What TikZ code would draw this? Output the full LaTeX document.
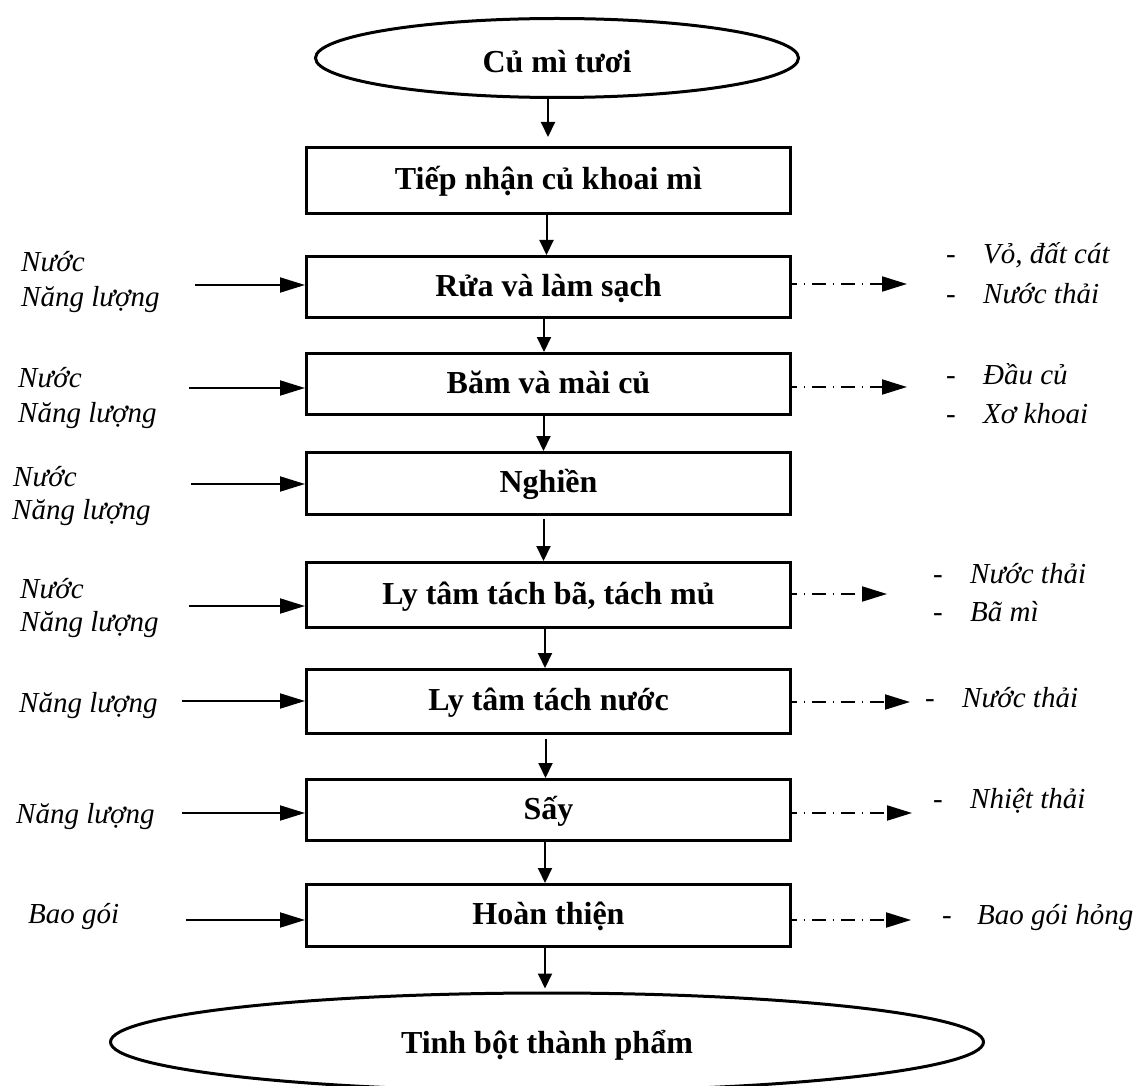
\documentclass[tikz,border=0pt]{standalone}
\usepackage{fontspec}
\setmainfont{Liberation Serif}
\usetikzlibrary{arrows.meta,shapes.geometric}
\begin{document}
\begin{tikzpicture}[x=1pt,y=-1pt,
  stepbox/.style={draw, line width=3pt, minimum width=484pt, inner sep=0pt,
    font=\fontsize{32}{38}\selectfont\bfseries, text height=24pt, text depth=6pt},
  endcap/.style={draw, ellipse, line width=3pt, inner sep=0pt,
    font=\fontsize{32}{38}\selectfont\bfseries},
  flow/.style={line width=2pt, -{Triangle[length=15pt,width=14pt]}},
  feed/.style={line width=2pt, -{Triangle[length=25pt,width=15pt]}},
  waste/.style={line width=2pt, dash pattern=on 14pt off 6.5pt on 1.5pt off 7pt,
    dash phase=9pt, -{Triangle[length=25pt,width=15pt]}},
  lab/.style={anchor=base west, inner sep=0pt, font=\fontsize{29}{34}\selectfont\itshape},
  outlab/.style={anchor=base west, inner sep=0pt, font=\fontsize{29}{34}\selectfont},
]
\clip (0,0) rectangle (1133,1086);

% start and end of the process
\node[endcap, minimum width=483pt, minimum height=79pt, text height=30pt, text depth=0pt]
  (e1) at (557,58) {Củ mì tươi};
\node[endcap, minimum width=873pt, minimum height=98pt, text height=28pt, text depth=6pt]
  (e2) at (547,1042) {Tinh bột thành phẩm};

% process steps
\node[stepbox, minimum height=66pt] (b1) at (548.5,180.5) {Tiếp nhận củ khoai mì};
\node[stepbox, minimum height=61pt] (b2) at (548.5,287) {Rửa và làm sạch};
\node[stepbox, minimum height=61pt] (b3) at (548.5,384) {Băm và mài củ};
\node[stepbox, minimum height=62pt] (b4) at (548.5,483.5) {Nghiền};
\node[stepbox, minimum height=65pt] (b5) at (548.5,595) {Ly tâm tách bã, tách mủ};
\node[stepbox, minimum height=64pt] (b6) at (548.5,701.5) {Ly tâm tách nước};
\node[stepbox, minimum height=61pt] (b7) at (548.5,810) {Sấy};
\node[stepbox, minimum height=62pt] (b8) at (548.5,915.5) {Hoàn thiện};

% main flow
\draw[flow] ([xshift=-9pt]e1.south) -- ([xshift=-0.5pt,yshift=9pt]b1.north);
\draw[flow] ([xshift=-2pt]b1.south) -- ([xshift=-2pt]b2.north);
\draw[flow] ([xshift=-4.5pt]b2.south) -- ([xshift=-4.5pt]b3.north);
\draw[flow] ([xshift=-5pt]b3.south) -- ([xshift=-5pt]b4.north);
\draw[flow] ([xshift=-5pt,yshift=-3pt]b4.south) -- ([xshift=-5pt]b5.north);
\draw[flow] ([xshift=-3.5pt]b5.south) -- ([xshift=-3.5pt]b6.north);
\draw[flow] ([xshift=-3pt,yshift=-4pt]b6.south) -- ([xshift=-3pt]b7.north);
\draw[flow] ([xshift=-3.5pt]b7.south) -- ([xshift=-3.5pt]b8.north);
\draw[flow] ([xshift=-3.5pt]b8.south) -- ([xshift=-2pt,yshift=3pt]e2.north);

% inputs
\coordinate (in2) at (195,285);
\coordinate (in3) at (189,388);
\coordinate (in4) at (191,484);
\coordinate (in5) at (189,606);
\coordinate (in6) at (182,701);
\coordinate (in7) at (182,813);
\coordinate (in8) at (186,920);
\foreach \k in {2,...,8}{
  \draw[feed] (in\k) -- (in\k -| b\k.west);
}

\node[lab] (n2a) at (21,272) {Nước};
\node[lab] (n2b) at (21,306) {Năng lượng};
\node[lab] (n3a) at (18,387) {Nước};
\node[lab] (n3b) at (18,422) {Năng lượng};
\node[lab] (n4a) at (13,486) {Nước};
\node[lab] (n4b) at (12,519) {Năng lượng};
\node[lab] (n5a) at (20,598) {Nước};
\node[lab] (n5b) at (20,631) {Năng lượng};
\node[lab] (n6a) at (19,712) {Năng lượng};
\node[lab] (n7a) at (16,823) {Năng lượng};
\node[lab] (n8a) at (28,923) {Bao gói};

% outputs
\coordinate (out2) at (907,284);
\coordinate (out3) at (907,387);
\coordinate (out5) at (887,594);
\coordinate (out6) at (910,702);
\coordinate (out7) at (912,813);
\coordinate (out8) at (911,920);
\foreach \k in {2,3,5,6,7,8}{
  \draw[waste] (b\k.east |- out\k) -- (out\k);
}

\node[outlab] (w2a) at (946,264) {\makebox[37pt][l]{-}\textit{Vỏ, đất cát}};
\node[outlab] (w2b) at (946,303) {\makebox[37pt][l]{-}\textit{Nước thải}};
\node[outlab] (w3a) at (946,384) {\makebox[37pt][l]{-}\textit{Đầu củ}};
\node[outlab] (w3b) at (946,423) {\makebox[37pt][l]{-}\textit{Xơ khoai}};
\node[outlab] (w5a) at (933,583) {\makebox[37pt][l]{-}\textit{Nước thải}};
\node[outlab] (w5b) at (933,621) {\makebox[37pt][l]{-}\textit{Bã mì}};
\node[outlab] (w6a) at (925,707) {\makebox[37pt][l]{-}\textit{Nước thải}};
\node[outlab] (w7a) at (933,808) {\makebox[37pt][l]{-}\textit{Nhiệt thải}};
\node[outlab] (w8a) at (942,924) {\makebox[35pt][l]{-}\textit{Bao gói hỏng}};
\end{tikzpicture}
\end{document}
